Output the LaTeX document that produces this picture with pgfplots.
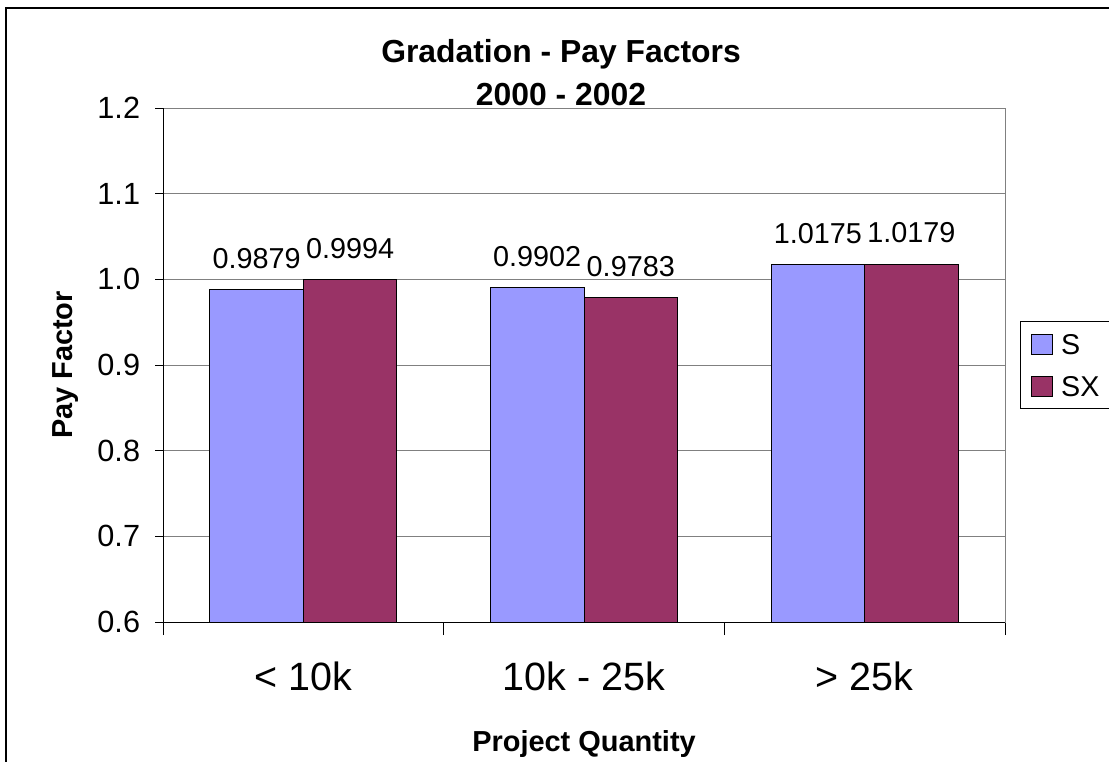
\documentclass[border=0pt]{standalone}
\usepackage{fontspec}
\setmainfont{Liberation Sans}
\usepackage{pgfplots}
\pgfplotsset{compat=1.18}
\definecolor{sblue}{HTML}{9999FF}
\definecolor{sxred}{HTML}{993366}
\definecolor{gridgray}{HTML}{808080}
\begin{document}
\begin{tikzpicture}
\path[use as bounding box] (0,0) rectangle (831.75pt,570.75pt);
\draw[line width=0.9pt] (4.5pt,-1pt) -- (4.5pt,564.75pt) -- (833pt,564.75pt);
\begin{axis}[
  at={(122.25pt,104.25pt)}, anchor=south west,
  scale only axis, width=631.5pt, height=385.5pt,
  clip mode=individual,
  ybar=0pt, bar width=0.3333,
  xmin=-0.5, xmax=2.5, ymin=0.6, ymax=1.2,
  ytick={0.6,0.7,0.8,0.9,1.0,1.1,1.2},
  xtick={0,1,2},
  xticklabels={{< 10k},{10k - 25k},{> 25k}},
  minor xtick={-0.5,0.5,1.5,2.5},
  tick pos=left,
  tick align=outside,
  major tick length=6pt,
  minor tick length=9.75pt,
  major x tick style={draw=none},
  minor x tick style={black, line width=0.75pt},
  major y tick style={black, line width=0.75pt},
  ymajorgrids,
  grid style={gridgray, line width=0.75pt},
  axis line style={gridgray, line width=0.75pt},
  /pgf/number format/assume math mode=true,
  yticklabel style={/pgf/number format/.cd, fixed, fixed zerofill, precision=1, /tikz/.cd,
    font=\fontsize{23}{27}\selectfont, inner sep=0pt, anchor=east, xshift=-11pt},
  xticklabel style={font=\fontsize{29.6}{34}\selectfont, inner sep=0pt, anchor=base,
    yshift=-45pt},
  xlabel={Project Quantity},
  xlabel style={font=\fontsize{21.7}{26}\selectfont\bfseries, inner sep=0pt, anchor=base,
    at={(rel axis cs:0.5,-0.2510)}},
  ylabel={Pay Factor},
  ylabel style={font=\fontsize{21.7}{26}\selectfont\bfseries, inner sep=0pt, anchor=base,
    rotate=0, at={(rel axis cs:-0.1080,0.5)}},
  nodes near coords={\pgfmathprintnumber[fixed,fixed zerofill,precision=4,assume math mode=true]{\pgfplotspointmeta}},
  every node near coord/.append style={font=\fontsize{21.6}{26}\selectfont, black,
    inner sep=0pt, anchor=base, yshift=16pt},
  legend image code/.code={\draw[#1] (0pt,-7.5pt) rectangle (15.75pt,7.5pt);},
  legend style={at={(rel axis cs:1.0178,0.5856)}, anchor=north west,
    draw=black, line width=0.75pt, fill=white,
    inner xsep=7.5pt, inner ysep=9pt, row sep=16pt,
    font=\fontsize{21.5}{25}\selectfont,
    nodes={inner sep=0pt, text height=15pt, text depth=0pt},
    /tikz/every odd column/.append style={column sep=6.5pt}},
  legend cell align=left,
]
\addplot[fill=sblue, draw=black, line width=0.75pt] coordinates {(0,0.9879) (1,0.9902) (2,1.0175)};
\addplot[fill=sxred, draw=black, line width=0.75pt] coordinates {(0,0.9994) (1,0.9783) (2,1.0179)};
\legend{S,SX}
\draw[black, line width=0.75pt] (rel axis cs:0,0) -- (rel axis cs:0,1);
\draw[black, line width=0.75pt] (rel axis cs:0,0) -- (rel axis cs:1,0);
\node[font=\fontsize{23.9}{28}\selectfont\bfseries, inner sep=0pt, anchor=base]
  at (rel axis cs:0.4727,1.0895) {Gradation - Pay Factors};
\node[font=\fontsize{23.9}{28}\selectfont\bfseries, inner sep=0pt, anchor=base]
  at (rel axis cs:0.4727,1.0058) {2000 - 2002};
\end{axis}
\end{tikzpicture}
\end{document}
